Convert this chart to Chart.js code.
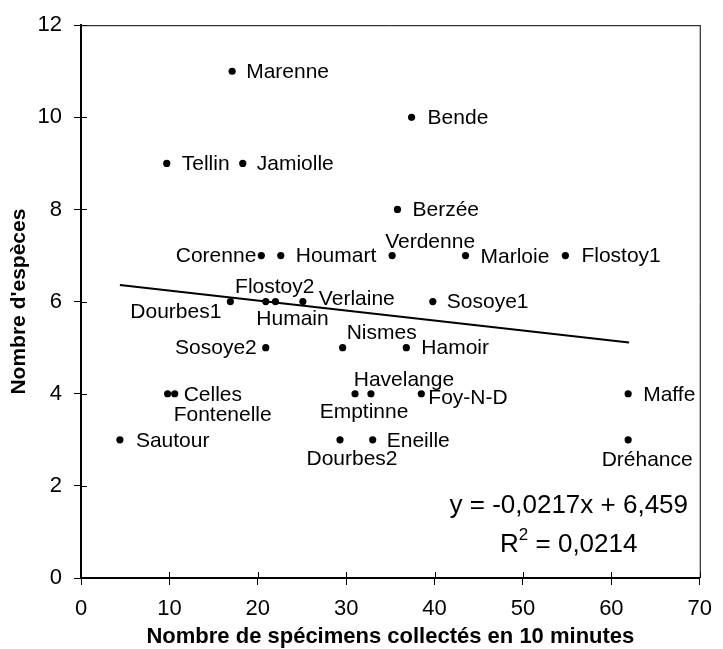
<!DOCTYPE html>
<html><head><meta charset="utf-8">
<script src="https://cdn.jsdelivr.net/npm/chart.js@4/dist/chart.umd.min.js"></script>
<style>html,body{margin:0;padding:0;background:#fff}#wrap{width:723px;height:649px}</style>
</head><body><div id="wrap"><canvas id="c" width="723" height="649"></canvas></div>
<script>
// ---- data ----
const siteNames = ['Marenne','Bende','Tellin','Jamiolle','Berzée','Corenne','Houmart','Verdenne','Marloie','Flostoy1',
  'Dourbes1','Flostoy2','Humain','Verlaine','Sosoye1','Sosoye2','Nismes','Hamoir','Celles','Fontenelle',
  'Emptinne','Havelange','Foy-N-D','Maffe','Sautour','Dourbes2','Eneille','Dréhance'];
const specimens = [17.1,37.4,9.7,18.3,35.8,20.4,22.6,35.2,43.5,54.8,
  16.9,20.9,22.0,25.1,39.8,20.9,29.6,36.8,10.6,9.8,
  31.0,32.8,38.5,61.9,4.4,29.3,33.0,61.9];
const species = [11,10,9,9,8,7,7,7,7,7,
  6,6,6,6,6,5,5,5,4,4,
  4,4,4,4,3,3,3,3];
const trendX = [4.4, 62.0];
const trendY = [6.36, 5.11];
const xTickValues = [0,10,20,30,40,50,60,70];
const yTickValues = [0,2,4,6,8,10,12];
const equationText = 'y = -0,0217x + 6,459';
const r2Value = '0,0214';
const xTitle = 'Nombre de spécimens collectés en 10 minutes';
const yTitle = "Nombre d'espèces";

// ---- label placement (style only): [align, dx, dy] ----
const labelPlacement = [
  ['left',14,0],['left',16,0],['left',15,0],['left',14,0],['left',15,0],['right',-5,0],['left',15,0],['left',-7,-14],['left',15,1],['left',16,0],
  ['right',-9,10],['center',9,-15],['center',17,17],['left',16,-3],['left',14,0],['right',-9,0],['left',4,-15],['left',15,0],['left',9,0],['left',6,20],
  ['center',9,17],['center',33,-15],['left',7,3],['left',15,0],['left',16,0],['center',12,18],['left',14,0],['center',19,19]
];

const FONT = "'Liberation Sans', Arial, sans-serif";

const points = specimens.map((x, i) => ({x: x, y: species[i]}));
const trend = trendX.map((x, i) => ({x: x, y: trendY[i]}));

const labelPlugin = {
  id: 'pointLabels',
  afterDatasetsDraw(chart) {
    const ctx = chart.ctx;
    const meta = chart.getDatasetMeta(1);
    ctx.save();
    ctx.font = '21px ' + FONT;
    ctx.fillStyle = '#000';
    ctx.textBaseline = 'middle';
    meta.data.forEach((el, i) => {
      const p = labelPlacement[i];
      ctx.textAlign = p[0];
      ctx.fillText(siteNames[i], el.x + p[1], el.y + p[2] + 1);
    });
    ctx.restore();
  }
};

const framePlugin = {
  id: 'frame',
  afterDraw(chart) {
    const ctx = chart.ctx;
    const a = chart.chartArea;
    const xs = chart.scales.x, ys = chart.scales.y;
    ctx.save();
    ctx.strokeStyle = '#000';
    ctx.lineWidth = 1;
    ctx.beginPath();
    ctx.moveTo(a.left, a.top + 0.5); ctx.lineTo(a.right + 0.5, a.top + 0.5);
    ctx.moveTo(a.right + 0.5, a.top); ctx.lineTo(a.right + 0.5, a.bottom);
    xTickValues.forEach(v => {
      const px = Math.round(xs.getPixelForValue(v)) + 0.5;
      ctx.moveTo(px, a.bottom); ctx.lineTo(px, a.bottom - 6);
    });
    yTickValues.forEach(v => {
      const py = Math.round(ys.getPixelForValue(v)) + 0.5;
      ctx.moveTo(a.left, py); ctx.lineTo(a.left + 6, py);
    });
    ctx.stroke();
    // regression equation
    const cx = a.right - 131;
    ctx.fillStyle = '#000';
    ctx.textBaseline = 'middle';
    ctx.font = '26px ' + FONT;
    ctx.textAlign = 'center';
    ctx.fillText(equationText, cx, a.bottom - 72);
    const wR = ctx.measureText('R').width;
    const rest = ' = ' + r2Value;
    const wRest = ctx.measureText(rest).width;
    ctx.font = '17px ' + FONT;
    const wS = ctx.measureText('2').width;
    const total = wR + wS + wRest;
    let x0 = cx - total / 2;
    const y2 = a.bottom - 33;
    ctx.textAlign = 'left';
    ctx.font = '26px ' + FONT;
    ctx.fillText('R', x0, y2);
    ctx.font = '17px ' + FONT;
    ctx.fillText('2', x0 + wR, y2 - 10);
    ctx.font = '26px ' + FONT;
    ctx.fillText(rest, x0 + wR + wS, y2);
    ctx.restore();
  }
};

new Chart(document.getElementById('c'), {
  type: 'scatter',
  data: {
    datasets: [
      {
        type: 'line',
        data: trend,
        borderColor: '#000',
        borderWidth: 2,
        pointRadius: 0,
        fill: false,
        tension: 0
      },
      {
        data: points,
        backgroundColor: '#000',
        borderWidth: 0,
        pointRadius: 3.6,
        pointHoverRadius: 3.6
      }
    ]
  },
  options: {
    responsive: false,
    animation: false,
    events: [],
    layout: { padding: { left: 0, right: 14, top: 23, bottom: 0 } },
    plugins: { legend: { display: false }, tooltip: { enabled: false } },
    scales: {
      x: {
        type: 'linear', min: 0, max: 70,
        afterBuildTicks: s => { s.ticks = xTickValues.map(v => ({value: v})); },
        afterFit: s => { s.height = 71; },
        grid: { drawOnChartArea: false, drawTicks: true, tickLength: 7, color: '#000', lineWidth: 1 },
        border: { display: true, color: '#000', width: 2 },
        ticks: { color: '#000', padding: 11, font: { family: FONT, size: 22 }, maxRotation: 0 },
        title: { display: true, text: xTitle, color: '#000', font: { family: FONT, size: 22, weight: 'bold', lineHeight: 1 }, padding: { top: 0, bottom: 1 } }
      },
      y: {
        type: 'linear', min: 0, max: 12,
        afterBuildTicks: s => { s.ticks = yTickValues.map(v => ({value: v})); },
        afterFit: s => { s.width = 81; },
        grid: { drawOnChartArea: false, drawTicks: true, tickLength: 7, color: '#000', lineWidth: 1 },
        border: { display: true, color: '#000', width: 2 },
        ticks: { color: '#000', padding: 12, font: { family: FONT, size: 22 } },
        title: { display: true, text: yTitle, color: '#000', font: { family: FONT, size: 21, weight: 'bold', lineHeight: 1.2 }, padding: { top: 7, bottom: 0 } }
      }
    }
  },
  plugins: [labelPlugin, framePlugin]
});
</script>
</body></html>
